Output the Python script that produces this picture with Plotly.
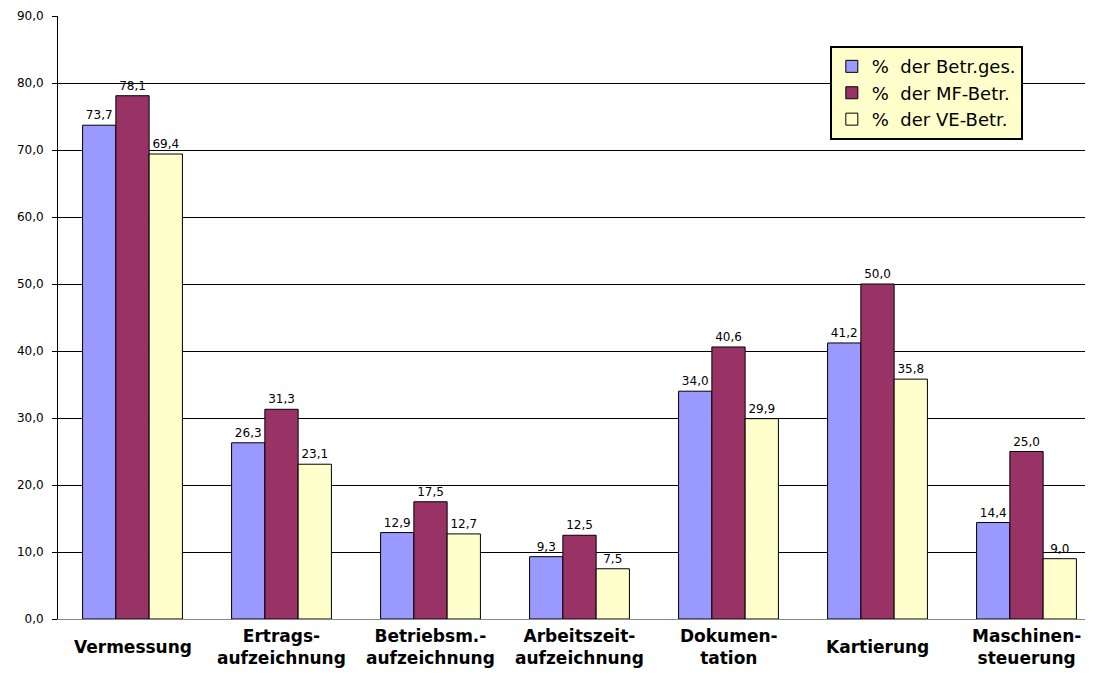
import plotly.graph_objects as go

categories = ["Vermessung", "Ertrags-<br>aufzeichnung", "Betriebsm.-<br>aufzeichnung",
              "Arbeitszeit-<br>aufzeichnung", "Dokumen-<br>tation", "Kartierung",
              "Maschinen-<br>steuerung"]
betr_ges = [73.7, 26.3, 12.9, 9.3, 34.0, 41.2, 14.4]
mf_betr = [78.1, 31.3, 17.5, 12.5, 40.6, 50.0, 25.0]
ve_betr = [69.4, 23.1, 12.7, 7.5, 29.9, 35.8, 9.0]
series_names = ["%  der Betr.ges.", "%  der MF-Betr.", "%  der VE-Betr."]
colors = ["#9999FF", "#993366", "#FFFFCC"]
tick_vals = [0, 10, 20, 30, 40, 50, 60, 70, 80, 90]


def de(v):
    return f"{v:.1f}".replace(".", ",")


fig = go.Figure()
for name, vals, col in zip(series_names, [betr_ges, mf_betr, ve_betr], colors):
    fig.add_trace(go.Bar(
        name=name, x=categories, y=vals,
        marker=dict(color=col, line=dict(color="black", width=1)),
        text=[de(v) for v in vals], textposition="outside", cliponaxis=False,
        textfont=dict(family="DejaVu Sans", size=12, color="black"),
    ))

# category labels as annotations, vertically centred like the original
for c in categories:
    fig.add_annotation(
        x=c, y=-0.046, xref="x", yref="paper", text="<b>" + c + "</b>",
        showarrow=False, yanchor="middle", xanchor="center",
        font=dict(family="DejaVu Sans", size=17, color="black"),
    )

# page has an 8px body margin, so offsets are compensated here
fig.update_layout(
    width=1093, height=679,
    margin=dict(l=50, r=0, t=8, b=68),
    paper_bgcolor="white", plot_bgcolor="white",
    barmode="group", bargap=0.33, bargroupgap=0,
    font=dict(family="DejaVu Sans", color="black"),
    legend=dict(
        x=0.74, y=0.95, xanchor="left", yanchor="top",
        bgcolor="#FFFFCC", bordercolor="black", borderwidth=2,
        font=dict(family="DejaVu Sans", size=18, color="black"),
    ),
    showlegend=True,
)
fig.update_yaxes(
    range=[0, 90], tickvals=tick_vals, ticktext=[de(v) for v in tick_vals],
    showgrid=True, gridcolor="black", gridwidth=1,
    showline=True, linecolor="black", linewidth=1,
    ticks="outside", ticklen=5, tickcolor="black", ticklabelstandoff=6,
    tickfont=dict(family="DejaVu Sans", size=12),
    zeroline=False, automargin=False,
)
fig.update_xaxes(
    showline=True, linecolor="#888888", linewidth=1,
    showticklabels=False, automargin=False,
)

fig.write_html("out.html")
